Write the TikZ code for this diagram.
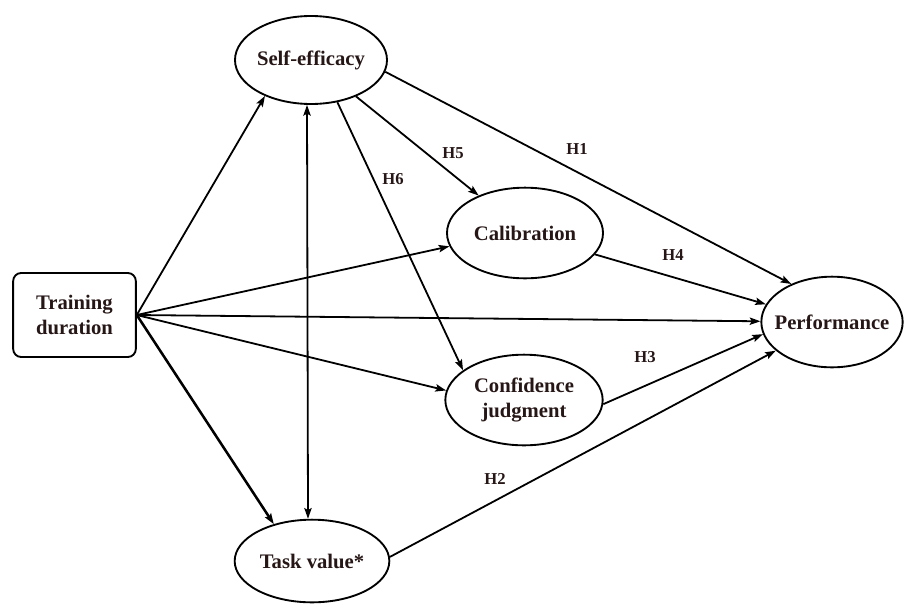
\documentclass[tikz,border=0pt]{standalone}
\usepackage{fontspec}
\setmainfont{Liberation Serif}
\usepackage{tikz}
\usetikzlibrary{shapes.geometric, arrows.meta, positioning}
\definecolor{inkdark}{RGB}{38,22,22}

\begin{document}
\begin{tikzpicture}[
    x=0.75pt, y=-0.75pt,
    >={Stealth[length=8pt, width=5.5pt, inset=1.5pt]},
    latent/.style={draw, ellipse, line width=1.4pt, inner xsep=-9pt, inner ysep=0pt, align=center, font=\fontsize{15.5}{19}\selectfont\bfseries, text=inkdark},
    obs/.style={draw, rounded corners=6pt, line width=1.4pt, minimum width=92pt, minimum height=63pt, align=center, font=\fontsize{15.5}{18.5}\selectfont\bfseries, text=inkdark},
    hyp/.style={font=\fontsize{12.5}{14}\selectfont\bfseries, text=inkdark},
    arr/.style={->, line width=1.35pt},
]
\useasboundingbox (0,0) rectangle (905,607);

% Observed variable
\node[obs] (td) at (74.5,315) {Training\\duration};

% Latent variables
\node[latent, minimum width=114pt, minimum height=66pt] (se) at (311,60) {Self-efficacy};
\node[latent, minimum width=116pt, minimum height=62pt] (tv) at (312,561) {Task value*};
\node[latent, minimum width=117pt, minimum height=68pt] (cal) at (525,233) {Calibration};
\node[latent, minimum width=118pt, minimum height=68pt] (cj) at (524,400) {Confidence\\judgment};
\node[latent, minimum width=106pt, minimum height=68pt] (perf) at (832,322) {Performance};

% Hypothesis labels
\node[hyp] (h1) at (577,149) {H1};
\node[hyp] (h2) at (495,479) {H2};
\node[hyp] (h3) at (645,357) {H3};
\node[hyp] (h4) at (673,255) {H4};
\node[hyp] (h5) at (453,153) {H5};
\node[hyp] (h6) at (393,179) {H6};

% Paths from training duration
\draw[arr] (td.east) -- (se.-142);
\draw[arr] (td.east) -- (cal.190);
\draw[arr] (td.east) -- (perf);
\draw[arr] (td.east) -- (cj.173);
\draw[arr, line width=1.9pt] (td.east) -- (tv.136);

% Covariance
\draw[arr, <->] ([xshift=-3pt]se.south) -- ([xshift=-3pt]tv.north);

% Hypothesised paths
\draw[arr] (se.-9) -- (perf.137);
\draw[arr] (tv.3) -- (perf.-153);
\draw[arr] (cj.-3) -- (perf.-170);
\draw[arr] (cal.-17) -- (perf.165);
\draw[arr] (se) -- (cal);
\draw[arr] (se.-58) -- (cj.154);

\end{tikzpicture}
\end{document}
